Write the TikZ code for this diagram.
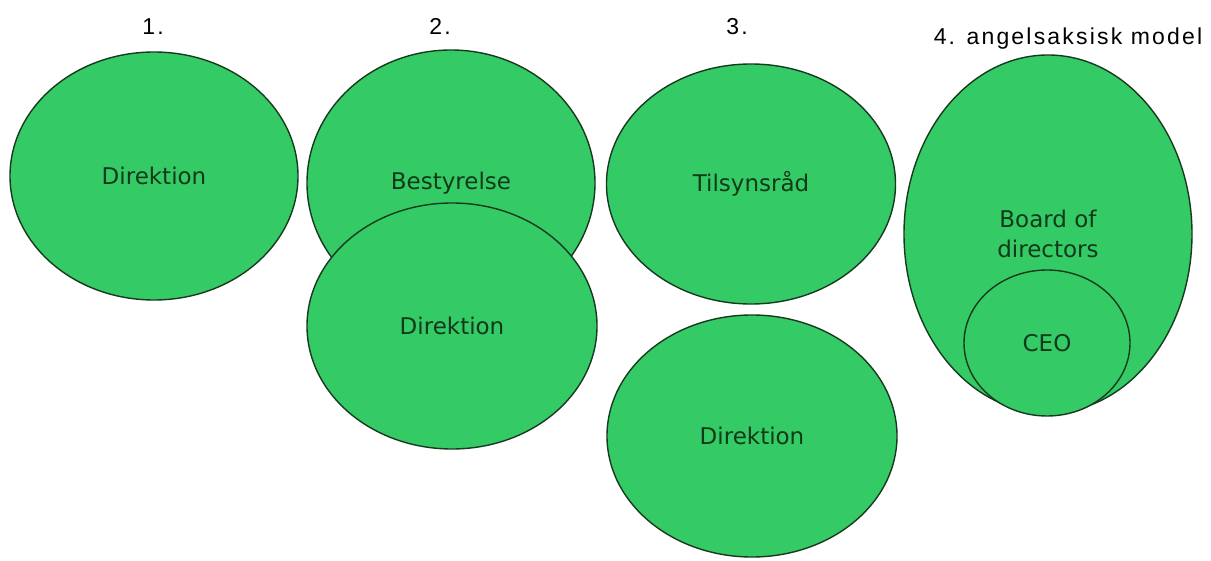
\documentclass[tikz,border=0pt]{standalone}
\usepackage{fontspec}
\setmainfont{Liberation Sans}
\newfontfamily\ellfont{DejaVu Sans}
\newfontfamily\labfont[LetterSpace=9.5]{Liberation Sans}
\usetikzlibrary{shapes.geometric}
\definecolor{blobfill}{HTML}{34CA66}
\definecolor{blobline}{HTML}{173A1E}
\definecolor{blobtext}{HTML}{123A1A}
\tikzset{
  blob/.style={ellipse, draw=blobline, fill=blobfill, line width=1.4pt,
    inner sep=0pt, text=blobtext, align=center,
    font=\ellfont\fontsize{23}{30}\selectfont},
  heading/.style={anchor=base, inner sep=0pt, text=black,
    font=\labfont\fontsize{23}{27}\selectfont}
}
\begin{document}
\begin{tikzpicture}[x=1pt,y=-1pt]
\useasboundingbox (0,0) rectangle (1211,561);
\fill[white] (0,0) rectangle (1211,561);

% column headings
\node[heading] (h1) at (153,35) {1.};
\node[heading] (h2) at (440,35) {2.};
\node[heading] (h3) at (737,35) {3.};
\node[heading] (h4) at (1068,45) {4. angelsaksisk model};

% 1. management only
\node[blob, minimum width=288pt, minimum height=248pt] (dir1) at (154,176) {Direktion};

% 2. board above management, overlapping
\node[blob, minimum width=288pt, minimum height=266pt] (best) at (451,183) {Bestyrelse};
\node[blob, minimum width=290pt, minimum height=246pt] (dir2) at (452,326) {Direktion};

% 3. supervisory board and management apart
\node[blob, minimum width=289pt, minimum height=240pt] (tils) at (751,184) {Tilsynsråd};
\node[blob, minimum width=290pt, minimum height=242pt] (dir3) at (752,436) {Direktion};

% 4. CEO inside the board of directors
\node[blob, minimum width=288pt, minimum height=358pt] (board) at (1048,234) {Board of\\directors};
\node[blob, minimum width=166pt, minimum height=146pt] (ceo) at (1047,343) {CEO};
\end{tikzpicture}
\end{document}
